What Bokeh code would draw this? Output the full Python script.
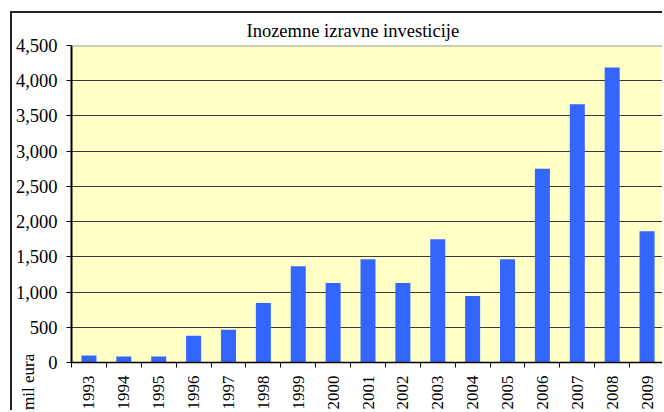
from math import pi
from bokeh.plotting import figure
from bokeh.layouts import column
from bokeh.models import Range1d, FixedTicker, NumeralTickFormatter, Span, Div
from bokeh.embed import file_html
from bokeh.resources import INLINE

years = ["1993", "1994", "1995", "1996", "1997", "1998", "1999", "2000", "2001",
         "2002", "2003", "2004", "2005", "2006", "2007", "2008", "2009"]
fdi = [100, 85, 85, 380, 465, 846, 1368, 1128, 1467, 1128, 1749, 945, 1467,
       2750, 3667, 4189, 1862]
y_ticks = [0, 500, 1000, 1500, 2000, 2500, 3000, 3500, 4000, 4500]
chart_title = "Inozemne izravne investicije"
y_label = "mil eura"

x_pos = [i + 0.5 for i in range(len(years))]
x_edges = list(range(len(years) + 1))

FONT = "'Liberation Serif', 'Times New Roman', serif"
FS = "18.5px"
FS_X = "17px"

p = figure(width=652, height=399,
           x_range=Range1d(0, len(years)), y_range=Range1d(0, y_ticks[-1]),
           output_backend="svg", toolbar_location=None,
           min_border_left=59, min_border_right=0, min_border_top=31, min_border_bottom=0)

p.vbar(x=x_pos, top=fdi, width=0.43, color="#3366FF", line_color=None)

p.background_fill_color = "#FFFFC6"
p.border_fill_color = "white"
p.outline_line_color = None
p.add_layout(Span(location=y_ticks[-1], dimension="width", line_color="#9a9a9a", line_width=2))

p.title.text = chart_title
p.title.text_font = FONT
p.title.text_font_size = FS
p.title.text_font_style = "normal"
p.title.text_color = "black"
p.title.align = "left"
p.title.offset = 175

p.xgrid.visible = False
p.ygrid.grid_line_color = "#3a3a3a"
p.ygrid.grid_line_width = 1

yax = p.yaxis[0]
yax.ticker = FixedTicker(ticks=y_ticks)
yax.formatter = NumeralTickFormatter(format="0,0")
yax.axis_line_color = "black"
yax.axis_line_width = 2
yax.major_tick_in = 0
yax.major_tick_out = 5
yax.major_tick_line_color = "black"
yax.minor_tick_line_color = None
yax.major_label_standoff = 9
yax.major_label_text_font = FONT
yax.major_label_text_font_size = FS
yax.major_label_text_color = "black"

xax = p.xaxis[0]
xax.ticker = FixedTicker(ticks=x_pos, minor_ticks=x_edges)
xax.major_label_overrides = {x: y for x, y in zip(x_pos, years)}
xax.major_label_orientation = pi / 2
xax.axis_line_color = "black"
xax.axis_line_width = 1.5
xax.major_tick_in = 0
xax.major_tick_out = 0
xax.minor_tick_in = 0
xax.minor_tick_out = 5
xax.minor_tick_line_color = "black"
xax.major_label_standoff = 8
xax.major_label_text_font = FONT
xax.major_label_text_font_size = FS_X
xax.major_label_text_color = "black"

p.styles = {"border-top": "2px solid #222", "border-left": "2px solid #222",
            "margin-top": "11px", "margin-left": "10px"}

ylab = Div(text=y_label, styles={
    "position": "absolute", "left": "15px", "top": "405px",
    "transform": "rotate(-90deg)", "transform-origin": "0 0",
    "font-family": "'Liberation Serif', 'Times New Roman', serif",
    "font-size": "17px", "line-height": "17px", "color": "black",
    "white-space": "nowrap"})

layout = column(p, ylab)

open("out.html", "w").write(file_html(layout, INLINE))
